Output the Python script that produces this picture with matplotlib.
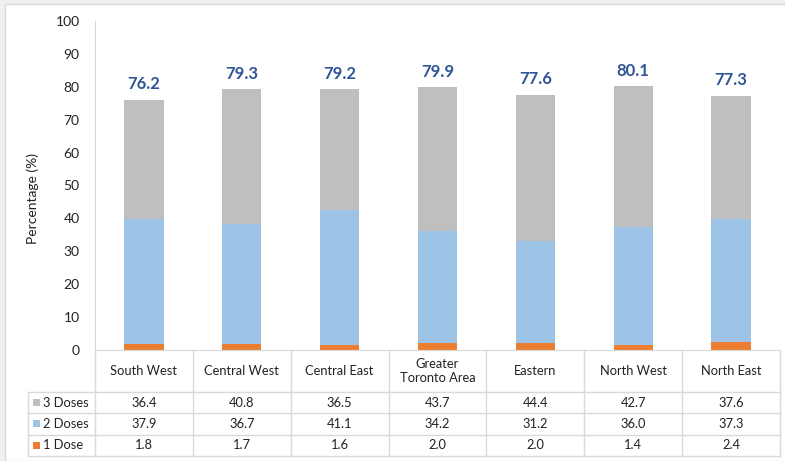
import matplotlib.pyplot as plt
import matplotlib.transforms as mtransforms
from matplotlib.patches import Rectangle
import numpy as np

plt.rcParams['font.family'] = ['Lato', 'DejaVu Sans']

regions = ['South West', 'Central West', 'Central East', 'Greater\nToronto Area',
           'Eastern', 'North West', 'North East']
one_dose = [1.8, 1.7, 1.6, 2.0, 2.0, 1.4, 2.4]
two_doses = [37.9, 36.7, 41.1, 34.2, 31.2, 36.0, 37.3]
three_doses = [36.4, 40.8, 36.5, 43.7, 44.4, 42.7, 37.6]
totals = [76.2, 79.3, 79.2, 79.9, 77.6, 80.1, 77.3]

series = [('3 Doses', three_doses, '#BFBFBF'),
          ('2 Doses', two_doses, '#9DC3E6'),
          ('1 Dose', one_dose, '#ED7D31')]

W, H = 785, 461
fig = plt.figure(figsize=(W / 100, H / 100), dpi=100, facecolor='#F0F0F0')
# white chart frame
fig.patches.append(Rectangle((5 / W, 0), 1, 1 - 4 / H, transform=fig.transFigure,
                             facecolor='white', edgecolor='#D9D9D9', lw=1, zorder=-1))

ax_l, ax_r, ax_t, ax_b = 95, 780, 21, 350
ax = fig.add_axes([ax_l / W, 1 - ax_b / H, (ax_r - ax_l) / W, (ax_b - ax_t) / H])
ax.set_facecolor('none')

x = np.arange(len(regions))
bw = 0.4
ax.bar(x, one_dose, bw, color='#ED7D31')
ax.bar(x, two_doses, bw, bottom=one_dose, color='#9DC3E6')
ax.bar(x, three_doses, bw, bottom=np.array(one_dose) + np.array(two_doses), color='#BFBFBF')

for xi, t in zip(x, totals):
    ax.text(xi, t + 2.3, f'{t:.1f}', ha='center', va='bottom', fontsize=12,
            fontweight='bold', color='#2F5597')

ax.set_xlim(-0.5, len(regions) - 0.5)
ax.set_ylim(0, 100)
ax.set_yticks(range(0, 101, 10))
ax.tick_params(axis='y', length=0, pad=11, labelsize=10, labelcolor='#222222')
ax.set_xticks([])
for s in ['top', 'right']:
    ax.spines[s].set_visible(False)
ax.spines['left'].set_color('#D9D9D9')
ax.spines['bottom'].set_color('#D9D9D9')

fig.text(33 / W, 1 - 199 / H, 'Percentage (%)', rotation=90, ha='center', va='center',
         fontsize=10, color='#222222')

# data table below the axes
trans = mtransforms.blended_transform_factory(ax.transData, ax.transAxes)
px = 1 / (ax_b - ax_t)
hdr_h = 42 * px
row_h = 21.3 * px
x_left = -0.5 - (ax_l - 28) / ((ax_r - ax_l) / len(regions))
x_right = len(regions) - 0.5
line_kw = dict(color='#D9D9D9', lw=1, transform=trans, clip_on=False)

y_hdr_bot = -hdr_h
y_bot = -hdr_h - 3 * row_h
ax.plot([x_right, x_right], [0, y_bot], **line_kw)
for b in np.arange(-0.5, len(regions) - 0.5):
    ax.plot([b, b], [0, y_bot], **line_kw)
ax.plot([x_left, x_left], [y_hdr_bot, y_bot], **line_kw)
for i in range(4):
    yy = y_hdr_bot - i * row_h
    ax.plot([x_left, x_right], [yy, yy], **line_kw)

for xi, name in zip(x, regions):
    ax.text(xi, -hdr_h / 2, name, ha='center', va='center', fontsize=9.3,
            color='#222222', transform=trans, linespacing=1.15)

for r, (label, vals, col) in enumerate(series):
    yc = y_hdr_bot - (r + 0.5) * row_h
    ax.add_patch(Rectangle((x_left + 0.05, yc - 3.5 * px), 0.072, 7 * px, transform=trans,
                           facecolor=col, edgecolor='none', clip_on=False))
    ax.text(x_left + 0.15, yc, label, ha='left', va='center', fontsize=9.3,
            color='#222222', transform=trans)
    for xi, v in zip(x, vals):
        ax.text(xi, yc, f'{v:.1f}', ha='center', va='center', fontsize=9.3,
                color='#222222', transform=trans)

fig.savefig('out.png', dpi=100, facecolor=fig.get_facecolor())
